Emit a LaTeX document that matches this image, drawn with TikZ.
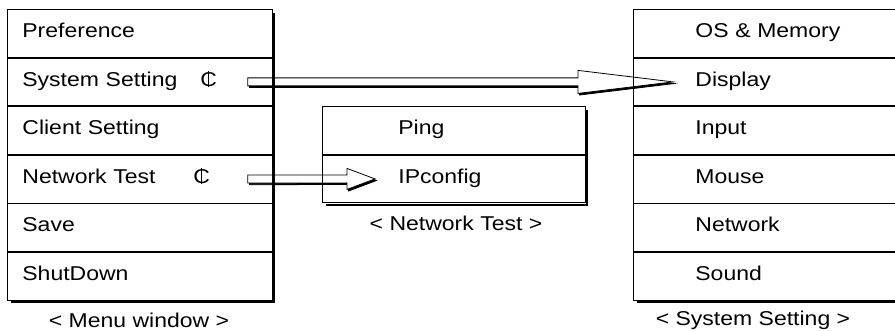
\documentclass[tikz,border=0pt]{standalone}
\usepackage{fontspec}
\setmainfont[FakeStretch=1.15]{Liberation Sans}
\usetikzlibrary{positioning,calc,backgrounds}

\tikzset{
  menufont/.style={font=\fontsize{20pt}{24pt}\selectfont},
  menurow/.style={draw, line width=0.8pt, menufont, anchor=north west, minimum height=47.8pt,
    inner ysep=0pt, text height=14.4pt, text depth=6pt, align=left},
  leftrow/.style={menurow, text width=235pt, inner xsep=15pt},
  netrow/.style={menurow, text width=111pt, inner xsep=76pt},
  sysrow/.style={menurow, text width=148pt, inner xsep=62pt},
  caption/.style={menufont, anchor=base},
  shadowline/.style={line width=2.2pt}
}

% the barred C that marks a submenu
\newcommand{\subsign}{\ooalign{C\cr\hidewidth\rule[-1pt]{0.7pt}{16pt}\hidewidth\cr}}
% hollow block arrow: tail, tip, head length, head half width
\newcommand{\hollowarrow}[4]{%
  \foreach \off/\col in {1.6/black,0/white}{
    \filldraw[fill=\col, draw=black, line width=0.8pt]
      ($(#1)+(\off,-4+\off)$) -- ($(#2)+(-#3+\off,-4+\off)$) -- ($(#2)+(-#3+\off,-#4+\off)$)
      -- ($(#2)+(\off,\off)$) -- ($(#2)+(-#3+\off,#4+\off)$) -- ($(#2)+(-#3+\off,4+\off)$)
      -- ($(#1)+(\off,4+\off)$) -- cycle;
  }}
% shadow on right and bottom side of a stack of rows
\newcommand{\boxshadow}[2]{%
  \draw[shadowline] ([xshift=1.5pt,yshift=-4pt]#1.north east) |- ([xshift=4pt,yshift=-1.5pt]#2.south west);}

\begin{document}
\begin{tikzpicture}[x=1pt,y=-1pt]
\useasboundingbox (0,0) rectangle (895,331);

% menu window
\node[leftrow] (pref) at (7,9) {Preference};
\node[leftrow,below=0pt of pref] (sys) {\makebox[178pt][l]{System Setting}\subsign};
\node[leftrow,below=0pt of sys] (client) {Client Setting};
\node[leftrow,below=0pt of client] (net) {\makebox[171pt][l]{Network Test}\subsign};
\node[leftrow,below=0pt of net] (save) {Save};
\node[leftrow,below=0pt of save] (shut) {ShutDown};
\boxshadow{pref}{shut}
\node[caption] (menucap) at (139,327) {< Menu window >};

% network test
\node[netrow] (ping) at (322,106) {Ping};
\node[netrow,below=0pt of ping] (ipc) {IPconfig};
\boxshadow{ping}{ipc}
\node[caption] (netcap) at (456,231) {< Network Test >};

% system setting
\node[sysrow] (os) at (633,9) {OS \& Memory};
\node[sysrow,below=0pt of os] (disp) {Display};
\node[sysrow,below=0pt of disp] (input) {Input};
\node[sysrow,below=0pt of input] (mouse) {Mouse};
\node[sysrow,below=0pt of mouse] (netw) {Network};
\node[sysrow,below=0pt of netw] (sound) {Sound};
\boxshadow{os}{sound}
\node[caption] (syscap) at (753,326) {< System Setting >};

% arrows
\coordinate (sysTail) at ($(sys.east)+(-25,0)$);
\coordinate (dispTip) at ($(disp.west)+(40,0)$);
\coordinate (netTail) at ($(net.east)+(-25,0)$);
\coordinate (ipcTip) at ($(ipc.west)+(53,0)$);
\begin{scope}[on background layer]
\hollowarrow{sysTail}{dispTip}{95}{11.5}
\hollowarrow{netTail}{ipcTip}{28}{10.5}
\end{scope}
\end{tikzpicture}
\end{document}
